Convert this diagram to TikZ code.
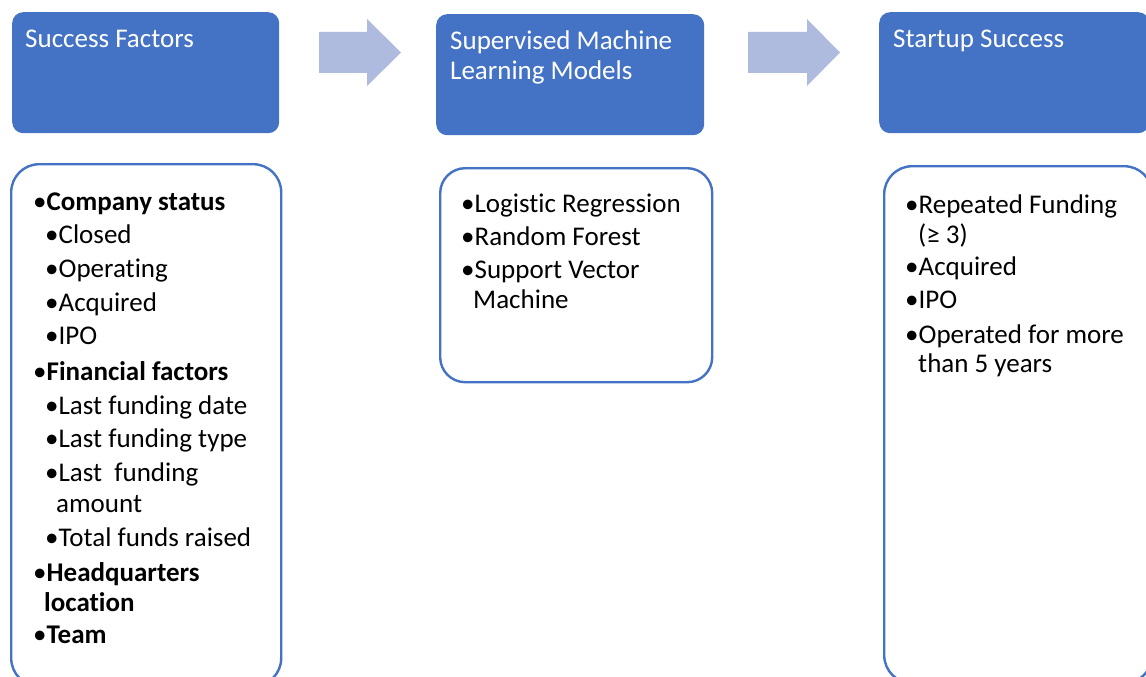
\documentclass[tikz,border=0pt]{standalone}
\usepackage{fontspec}
\setmainfont{Carlito}[Ligatures={NoCommon,NoContextual,NoRequired}, Contextuals=NoAlternate]
\definecolor{accent}{HTML}{4472C4}
\definecolor{arrowc}{RGB}{174,186,222}
\begin{document}
\begin{tikzpicture}[x=1pt,y=-1pt,
  head/.style={fill=accent, rounded corners=11pt, anchor=north west, inner sep=0pt},
  listbox/.style={draw=accent, line width=2.4pt, fill=white, rounded corners=28pt, anchor=north west, inner sep=0pt},
  ttl/.style={anchor=base west, text=white, font=\fontsize{27}{29}\selectfont, inner sep=0pt},
  itm/.style={anchor=base west, inner sep=0pt, text=black, font=\fontsize{27}{29}\selectfont},
  flow/.style={fill=arrowc}]
\useasboundingbox (0,0) rectangle (1146,677);
% header boxes
\node[head, minimum width=267pt, minimum height=121pt] (h1) at (12,12) {};
\node[head, minimum width=268pt, minimum height=121pt] (h2) at (436,14) {};
\node[head, minimum width=270pt, minimum height=121pt] (h3) at (879,12) {};
\node[ttl] (t1) at (25,48) {Success Factors};
\node[ttl] (t2a) at (450,50) {Supervised Machine};
\node[ttl] (t2b) at (450,79) {Learning Models};
\node[ttl] (t3) at (893,48) {Startup Success};
% block arrows
\fill[flow] (319,32) -- (367,32) -- (367,19) -- (401,52.5) -- (367,86) -- (367,73) -- (319,73) -- cycle;
\fill[flow] (748,32) -- (807,32) -- (807,19) -- (840,52.5) -- (807,86) -- (807,73) -- (748,73) -- cycle;
% list boxes
\node[listbox, minimum width=270pt, minimum height=522pt] (b1) at (10,163) {};
\node[listbox, minimum width=272pt, minimum height=214pt, rounded corners=25pt] (b2) at (439,167) {};
\node[listbox, minimum width=268pt, minimum height=517pt] (b3) at (883,165) {};
% list 1
\node[itm] (l1a) at (33,210) {•\textbf{Company status}};
\node[itm] (l1b) at (45,243) {•Closed};
\node[itm] (l1c) at (45,277) {•Operating};
\node[itm] (l1d) at (45,311) {•Acquired};
\node[itm] (l1e) at (45,344) {•IPO};
\node[itm] (l1f) at (33,380) {•\textbf{Financial factors}};
\node[itm] (l1g) at (45,414) {•Last funding date};
\node[itm] (l1h) at (45,447) {•Last funding type};
\node[itm] (l1i) at (45,481) {•Last\ \ funding};
\node[itm] (l1j) at (56,512) {amount};
\node[itm] (l1k) at (45,546) {•Total funds raised};
\node[itm] (l1l) at (33,581) {•\textbf{Headquarters}};
\node[itm] (l1m) at (44,611) {\textbf{location}};
\node[itm] (l1n) at (33,643) {•\textbf{Team}};
% list 2
\node[itm] (l2a) at (461,212) {•Logistic Regression};
\node[itm] (l2b) at (461,245) {•Random Forest};
\node[itm] (l2c) at (461,278) {•Support Vector};
\node[itm] (l2d) at (473,308) {Machine};
% list 3
\node[itm] (l3a) at (905,213) {•Repeated Funding};
\node[itm] (l3b) at (918,243) {(≥ 3)};
\node[itm] (l3c) at (905,275) {•Acquired};
\node[itm] (l3d) at (905,308) {•IPO};
\node[itm] (l3e) at (905,343) {•Operated for more};
\node[itm] (l3f) at (918,372) {than 5 years};
\end{tikzpicture}
\end{document}
